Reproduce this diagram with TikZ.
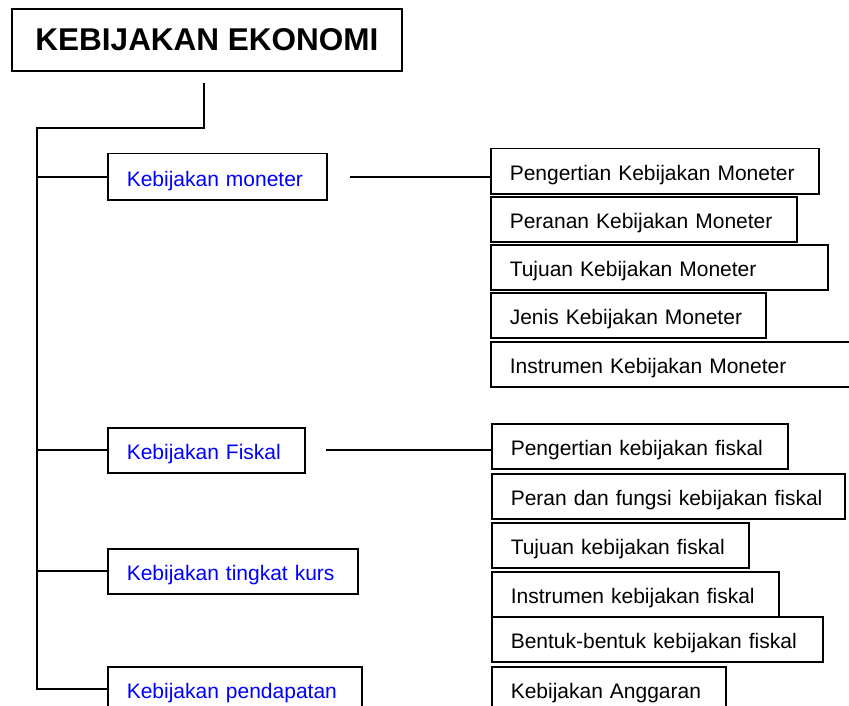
\documentclass[tikz,border=0pt]{standalone}
\usepackage{fontspec}
\setmainfont{Liberation Sans}
\usetikzlibrary{calc}
\usetikzlibrary{positioning}
\tikzset{
  topic/.style={draw, line width=1.5pt, anchor=north west, minimum height=45pt,
    inner xsep=19pt, inner ysep=0pt, text height=20pt, text depth=1pt,
    align=left, font=\fontsize{21}{24}\selectfont},
  policy/.style={topic, text=blue},
  branch/.style={line width=1.6pt},
}

\begin{document}
\begin{tikzpicture}[x=1pt, y=-1pt]
  \useasboundingbox (0,0) rectangle (849,706);

  \node [draw, line width=1.5pt, minimum width=390pt, minimum height=62pt,
    font=\bfseries\fontsize{31.5}{35}\selectfont] (title) at (207,40) {KEBIJAKAN EKONOMI};

  \node [policy, text width=181pt, minimum height=46pt] (mon) at (107,153) {Kebijakan moneter};
  \node [policy, text width=159pt] (fis) at (107,427) {Kebijakan Fiskal};
  \node [policy, text width=212pt] (kurs) at (107,548) {Kebijakan tingkat kurs};
  \node [policy, text width=216pt] (pend) at (107,666) {Kebijakan pendapatan};

  \foreach \t/\y/\w [count=\i] in {Pengertian Kebijakan Moneter/148/290,
    Peranan Kebijakan Moneter/196/268, Tujuan Kebijakan Moneter/244/299,
    Jenis Kebijakan Moneter/292/237, Instrumen Kebijakan Moneter/341/332} {
    \node [topic, text width=\w pt] (m\i) at (490,\y) {\t};
  }

  \foreach \t/\y/\w [count=\i] in {Pengertian kebijakan fiskal/423/258,
    Peran dan fungsi kebijakan fiskal/473/315, Tujuan kebijakan fiskal/522/219,
    Instrumen kebijakan fiskal/571/249, Bentuk-bentuk kebijakan fiskal/616/293,
    Kebijakan Anggaran/666/196} {
    \node [topic, text width=\w pt] (f\i) at (491,\y) {\t};
  }

  \coordinate (spine) at (37,128);
  \draw [branch] ([xshift=-3pt,yshift=-11pt]title.south) |- (spine)
    -- (spine |- pend.west) -- (pend.west);
  \foreach \n in {mon,fis,kurs} {
    \draw [branch] (spine |- \n.west) -- (\n.west);
  }

  \draw [branch] ([xshift=22pt]mon.east) -- (mon.east -| m1.west);
  \draw [branch] ([xshift=20pt]fis.east) -- (fis.east -| f1.west);
\end{tikzpicture}
\end{document}
